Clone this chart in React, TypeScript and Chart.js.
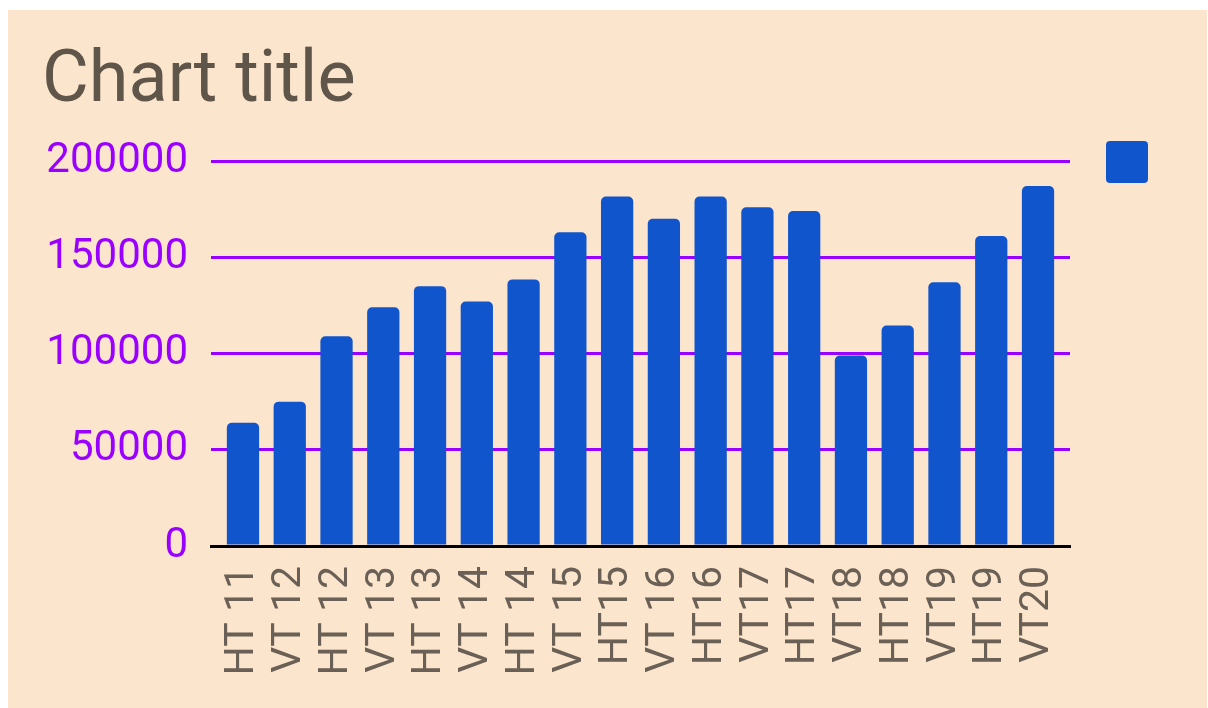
import React, { useEffect, useRef } from "react";
import { Chart, registerables } from "chart.js";

Chart.register(...registerables);

const categories: string[] = [
  "HT 11", "VT 12", "HT 12", "VT 13", "HT 13", "VT 14", "HT 14", "VT 15", "HT15",
  "VT 16", "HT16", "VT17", "HT17", "VT18", "HT18", "VT19", "HT19", "VT20",
];

const seriesValues: number[] = [
  64000, 75000, 109000, 124000, 135000, 127000, 138500, 163000, 181500,
  170000, 181500, 176000, 174000, 99000, 114500, 137000, 161000, 187000,
];

const yTickValues: number[] = [0, 50000, 100000, 150000, 200000];

const TEXT_COLOR = "#5f5549";
const PURPLE = "#9900ff";
const BAR_COLOR = "#1155cc";

export default function App() {
  const canvasRef = useRef<HTMLCanvasElement | null>(null);

  useEffect(() => {
    if (!canvasRef.current) return;
    Chart.defaults.font.family = "Roboto";
    const chart = new Chart(canvasRef.current, {
      type: "bar",
      data: {
        datasets: [
          {
            label: "",
            data: seriesValues.map((v, i) => ({ x: i, y: v })),
            backgroundColor: BAR_COLOR,
            borderRadius: 5,
            borderSkipped: "start",
            barPercentage: 0.69,
            categoryPercentage: 1,
          },
        ],
      },
      options: {
        animation: false,
        responsive: false,
        layout: { padding: { left: 34, right: 43, top: 0, bottom: 0 } },
        plugins: {
          title: {
            display: true,
            text: "Chart title",
            align: "start",
            color: TEXT_COLOR,
            font: { size: 72, weight: "normal", family: "Roboto" },
            padding: { top: 30, bottom: 34.6 },
          },
          legend: {
            display: true,
            position: "right",
            align: "start",
            title: {
              display: true,
              text: "",
              font: { size: 12, lineHeight: 1 },
              padding: { top: 83, bottom: 0 },
            },
            labels: {
              boxWidth: 42,
              boxHeight: 42,
              padding: 36,
              useBorderRadius: true,
              borderRadius: 4,
              font: { size: 12 },
            },
          },
          tooltip: { enabled: false },
        },
        scales: {
          x: {
            type: "linear",
            min: -0.684,
            max: 17.684,
            offset: false,
            bounds: "ticks",
            z: 1,
            grid: { display: false, drawTicks: false, offset: false },
            border: { display: true, color: "#000000", width: 3 },
            afterBuildTicks: (scale: any) => {
              scale.ticks = categories.map((_, i) => ({ value: i }));
            },
            afterFit: (scale: any) => {
              scale.height = 162;
            },
            ticks: {
              stepSize: 1,
              includeBounds: false,
              autoSkip: false,
              minRotation: 90,
              maxRotation: 90,
              padding: 20,
              color: "#6a6055",
              font: { size: 41, family: "Roboto" },
              callback: (value: any) => categories[Math.round(Number(value))] ?? "",
            },
          },
          y: {
            type: "linear",
            min: 0,
            max: 200000,
            afterBuildTicks: (scale: any) => {
              scale.ticks = yTickValues.map((v) => ({ value: v }));
            },
            afterFit: (scale: any) => {
              scale.width = 169;
            },
            grid: {
              drawTicks: false,
              lineWidth: 3,
              color: (ctx: any) =>
                ctx.tick && ctx.tick.value === 0 ? "rgba(0,0,0,0)" : PURPLE,
            },
            border: { display: false },
            ticks: {
              padding: 23,
              color: PURPLE,
              font: { size: 42, family: "Roboto" },
              callback: (value: any) => String(value),
            },
          },
        },
      },
    });
    return () => chart.destroy();
  }, []);

  return (
    <div
      style={{
        position: "absolute",
        left: 8,
        top: 10,
        width: 1199,
        height: 698,
        background: "#fce5cd",
      }}
    >
      <canvas ref={canvasRef} width={1199} height={698} style={{ display: "block" }} />
    </div>
  );
}
